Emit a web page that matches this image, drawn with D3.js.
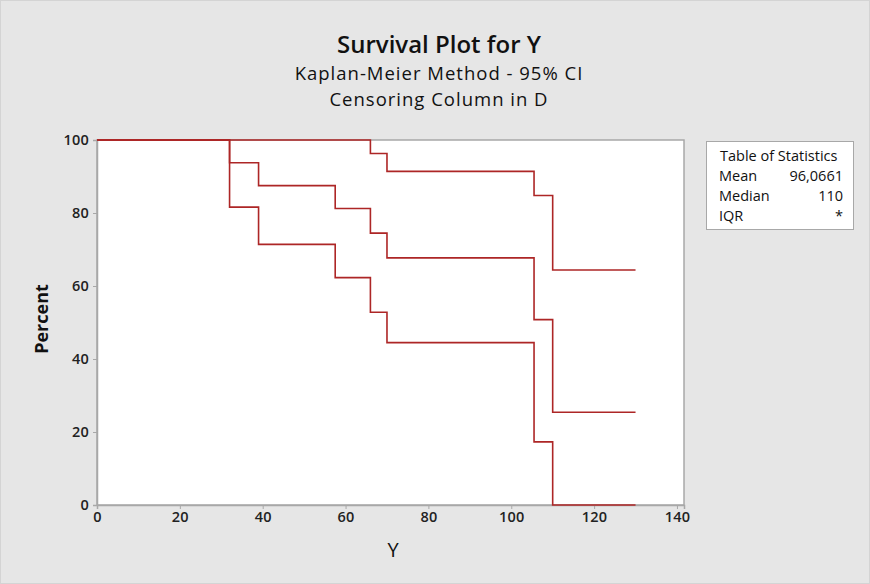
<!DOCTYPE html>
<html>
<head>
<meta charset="utf-8">
<script src="https://cdnjs.cloudflare.com/ajax/libs/d3/7.8.5/d3.min.js"></script>
<style>
  body { margin: 0; background: #e6e6e6; }
  svg { display: block; font-family: "Open Sans", "Noto Sans", sans-serif; }
</style>
</head>
<body>
<svg id="chart" width="870" height="584"></svg>
<script>
// step times (Y) and percent values from the picture
var times = [0, 32, 39, 57.5, 66, 70, 105.5, 110, 130];
var survival = [100, 93.75, 87.5, 81.25, 74.5, 67.7, 50.8, 25.4, 25.4];
var upperCI = [100, 100, 100, 100, 96.3, 91.4, 84.8, 64.4, 64.4];
var lowerCI = [100, 81.6, 71.4, 62.3, 52.8, 44.5, 17.3, 0, 0];
var xTicks = [0, 20, 40, 60, 80, 100, 120, 140];
var yTicks = [0, 20, 40, 60, 80, 100];
var statLabels = ["Mean", "Median", "IQR"];
var statValues = ["96,0661", "110", "*"];

var svg = d3.select("#chart");
var margin = {left: 97, top: 140, right: 186, bottom: 79};
var width = 870 - margin.left - margin.right,
    height = 584 - margin.top - margin.bottom;

svg.append("rect").attr("x", 0.5).attr("y", 0.5).attr("width", 869).attr("height", 583)
  .attr("fill", "#e6e6e6").attr("stroke", "#d4d4d4");

// titles
svg.append("text").attr("x", 439).attr("y", 53).attr("text-anchor", "middle")
  .attr("font-size", 24).attr("font-weight", 600).attr("fill", "#111").text("Survival Plot for Y");
svg.append("text").attr("x", 439).attr("y", 80).attr("text-anchor", "middle")
  .attr("font-size", 18.5).attr("letter-spacing", 1).attr("fill", "#111").text("Kaplan-Meier Method - 95% CI");
svg.append("text").attr("x", 439).attr("y", 106).attr("text-anchor", "middle")
  .attr("font-size", 18.5).attr("letter-spacing", 1).attr("fill", "#111").text("Censoring Column in D");

var g = svg.append("g").attr("transform", "translate(" + margin.left + "," + margin.top + ")");

var x = d3.scaleLinear().domain([0, 141.7]).range([0, width]);
var y = d3.scaleLinear().domain([0, 100]).range([height, 0]);

g.append("rect").attr("width", width).attr("height", height)
  .attr("fill", "white").attr("stroke", "#a8a8a8").attr("stroke-width", 1.5);

var xAxis = g.append("g").attr("transform", "translate(0," + height + ")")
  .call(d3.axisBottom(x).tickValues(xTicks).tickSize(4).tickPadding(3));
var yAxis = g.append("g")
  .call(d3.axisLeft(y).tickValues(yTicks).tickSize(4).tickPadding(4));

[xAxis, yAxis].forEach(function(a) {
  a.select(".domain").attr("stroke", "#a8a8a8").attr("stroke-width", 1.5);
  a.selectAll(".tick line").attr("stroke", "#a8a8a8");
  a.selectAll(".tick text").attr("font-size", 14.5).attr("font-weight", 600)
    .attr("letter-spacing", 0.2).attr("fill", "#222")
    .attr("font-family", "'Open Sans', sans-serif");
});

var line = d3.line()
  .x(function(d) { return x(d[0]); })
  .y(function(d) { return y(d[1]); })
  .curve(d3.curveStepAfter);

[upperCI, lowerCI, survival].forEach(function(s) {
  g.append("path")
    .datum(times.map(function(t, i) { return [t, s[i]]; }))
    .attr("d", line)
    .attr("fill", "none")
    .attr("stroke", "#ad2626")
    .attr("stroke-width", 1.6);
});

// axis labels
svg.append("text").attr("x", 393).attr("y", 557).attr("text-anchor", "middle")
  .attr("font-size", 20).attr("fill", "#111").text("Y");
svg.append("text").attr("transform", "translate(48,319) rotate(-90)").attr("text-anchor", "middle")
  .attr("font-size", 18).attr("font-weight", 700).attr("fill", "#111").text("Percent");

// table of statistics
var leg = svg.append("g").attr("transform", "translate(706,141)");
leg.append("rect").attr("x", 0.5).attr("y", 0.5).attr("width", 147).attr("height", 88)
  .attr("fill", "white").attr("stroke", "#a8a8a8");
leg.append("text").attr("x", 14).attr("y", 20).attr("font-size", 14.5).attr("fill", "#111")
  .text("Table of Statistics");
statLabels.forEach(function(l, i) {
  leg.append("text").attr("x", 13).attr("y", 40 + i * 20).attr("font-size", 14.5).attr("fill", "#111").text(l);
  leg.append("text").attr("x", 137).attr("y", 40 + i * 20).attr("text-anchor", "end")
    .attr("font-size", 14.5).attr("fill", "#111").text(statValues[i]);
});
</script>
</body>
</html>
